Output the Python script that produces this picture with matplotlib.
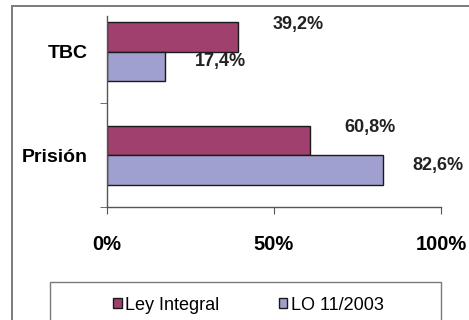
import matplotlib
matplotlib.use("Agg")
import matplotlib.pyplot as plt
from matplotlib.patches import Rectangle
import numpy as np

categories = ["Prisión", "TBC"]
ley_integral = [60.8, 39.2]
lo_2003 = [82.6, 17.4]
series_names = ["Ley Integral", "LO 11/2003"]
x_ticks = [0, 50, 100]
x_tick_labels = ["0%", "50%", "100%"]

c_ley = "#A0406E"
c_lo = "#A0A0D0"
edge = "#1a1a1a"
axis_col = "#555555"
sans = ["Liberation Sans", "DejaVu Sans"]

fig = plt.figure(figsize=(4.69, 3.20), dpi=100)
fig.patch.set_facecolor("white")

# outer chart frame (runs off the right and bottom edges)
fig.patches.append(Rectangle((12 / 469, -0.2), 1.2, 0.2 + (1 - 6 / 320),
                             transform=fig.transFigure, fill=False,
                             edgecolor="#7a7a7a", lw=1.4, clip_on=False))

ax = fig.add_axes([107 / 469, 1 - 207 / 320, 334 / 469, 191 / 320])
y = np.arange(len(categories))
h = 0.286
b1 = ax.barh(y + h / 2, ley_integral, height=h, color=c_ley, edgecolor=edge, lw=1.0)
b2 = ax.barh(y - h / 2, lo_2003, height=h, color=c_lo, edgecolor=edge, lw=1.0)

ax.set_xlim(0, 100)
ax.set_ylim(-0.5, 1.345)

for rect, v in zip(b1, ley_integral):
    ax.annotate(f"{v:.1f}%".replace(".", ","),
                xy=(v, rect.get_y() + rect.get_height() / 2),
                xytext=(25, 9.0), textcoords="offset points",
                ha="left", va="center", fontsize=13, fontweight="bold",
                family=sans, color="#222222")
for rect, v in zip(b2, lo_2003):
    ax.annotate(f"{v:.1f}%".replace(".", ","),
                xy=(v, rect.get_y() + rect.get_height() / 2),
                xytext=(21.5, 3.5), textcoords="offset points",
                ha="left", va="center", fontsize=13, fontweight="bold",
                family=sans, color="#222222")

for s in ["top", "right"]:
    ax.spines[s].set_visible(False)
for s in ["left", "bottom"]:
    ax.spines[s].set_color(axis_col)
    ax.spines[s].set_linewidth(1.0)

ax.set_xticks(x_ticks)
ax.set_xticklabels(x_tick_labels, fontsize=14.5, fontweight="bold", family=sans)
ax.tick_params(axis="x", direction="out", length=5, color=axis_col, pad=15)

ax.set_yticks(y)
ax.set_yticklabels(categories, fontsize=14, fontweight="bold", family=sans)
ax.tick_params(axis="y", which="major", length=0, pad=14)
ax.set_yticks([-0.5, 0.5], minor=True)
ax.tick_params(axis="y", which="minor", direction="out", length=5, color=axis_col)

# legend box (cut by the bottom edge)
fig.patches.append(Rectangle((50 / 469, -0.2), 391 / 469, 0.2 + (1 - 282 / 320),
                             transform=fig.transFigure, fill=False,
                             edgecolor="#7a7a7a", lw=1.0, clip_on=False))
leg = fig.legend([b1, b2], series_names, loc="center",
                 bbox_to_anchor=(0.53, 1 - 305 / 320), ncol=2, frameon=False,
                 handlelength=0.45, handleheight=0.45, handletextpad=0.2,
                 columnspacing=3.3, prop={"family": sans, "size": 13})

fig.savefig("out.png", dpi=100)
